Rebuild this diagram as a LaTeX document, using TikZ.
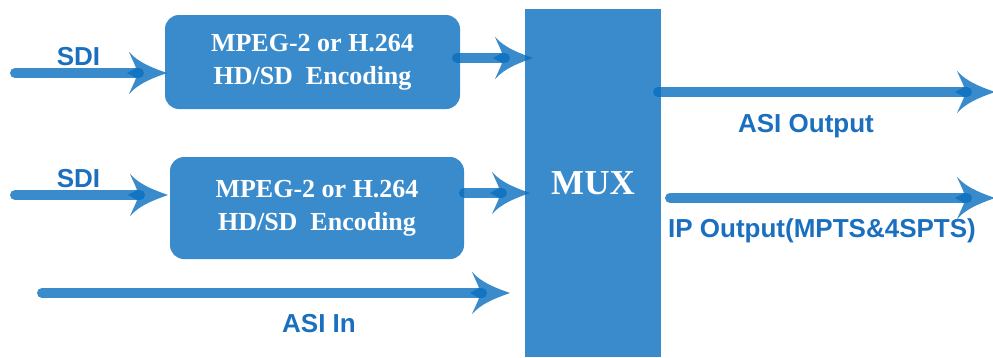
\documentclass[tikz,border=0pt]{standalone}
\usepackage{fontspec}
\setmainfont{Liberation Serif}
\setsansfont{Liberation Sans}
\usetikzlibrary{arrows.meta}
\definecolor{boxblue}{HTML}{3A8BCB}
\definecolor{lineblue}{RGB}{9,110,190}
\definecolor{txtblue}{HTML}{1A6FBF}
\pgfdeclarearrow{
  name = Swept,
  setup code = {
    \pgfarrowssettipend{0pt}
    \pgfarrowssetlineend{-28pt}
    \pgfarrowssetbackend{-40pt}
  },
  drawing code = {
    \pgfpathmoveto{\pgfqpoint{0pt}{0pt}}
    \pgfpathcurveto{\pgfqpoint{-14pt}{5pt}}{\pgfqpoint{-28pt}{10pt}}{\pgfqpoint{-38pt}{21pt}}
    \pgfpathcurveto{\pgfqpoint{-34pt}{12pt}}{\pgfqpoint{-32pt}{8pt}}{\pgfqpoint{-31pt}{5pt}}
    \pgfpathlineto{\pgfqpoint{-40pt}{0pt}}
    \pgfpathlineto{\pgfqpoint{-31pt}{-5pt}}
    \pgfpathcurveto{\pgfqpoint{-32pt}{-8pt}}{\pgfqpoint{-34pt}{-12pt}}{\pgfqpoint{-38pt}{-21pt}}
    \pgfpathcurveto{\pgfqpoint{-28pt}{-10pt}}{\pgfqpoint{-14pt}{-5pt}}{\pgfqpoint{0pt}{0pt}}
    \pgfpathclose
    \pgfusepathqfill
  }
}
\tikzset{
  encbox/.style={draw=none, fill=boxblue, rounded corners=14pt, text=white,
    align=center, font=\fontsize{26}{33}\selectfont\bfseries,
    minimum width=#1, inner sep=0pt},
  muxbox/.style={draw=none, fill=boxblue, text=white, inner sep=0pt,
    font=\fontsize{35}{40}\selectfont\bfseries},
  flow/.style={color=lineblue, opacity=0.8, line width=10pt, line cap=round, -Swept},
  lbl/.style={text=txtblue, anchor=base, inner sep=0pt,
    font=\sffamily\bfseries\fontsize{26}{30}\selectfont},
}
\begin{document}
\begin{tikzpicture}[x=1pt,y=-1pt]
\useasboundingbox (0,0) rectangle (993,357);
% boxes
\node[encbox=295pt, minimum height=94pt] (enc1) at (312.5,62) {MPEG-2 or H.264\\HD/SD~ Encoding};
\node[encbox=294pt, minimum height=102pt] (enc2) at (317,208) {MPEG-2 or H.264\\HD/SD~ Encoding};
\node[muxbox, minimum width=136pt, minimum height=348pt] (mux) at (593,183) {MUX};
% end points
\coordinate (sdi1s) at (15,73);   \coordinate (sdi1t) at (167,73);
\coordinate (sdi2s) at (15,195);  \coordinate (sdi2t) at (168,195);
\coordinate (e1s) at (457,58);    \coordinate (e1t) at (533,58);
\coordinate (e2s) at (464,193);   \coordinate (e2t) at (530,193);
\coordinate (asis) at (42,293);   \coordinate (asit) at (510,293);
\coordinate (aos) at (658,92);    \coordinate (aot) at (995,92);
\coordinate (ips) at (670,198);   \coordinate (ipt) at (995,198);
% connectors
\draw[flow] (sdi1s) -- (sdi1t);
\draw[flow] (sdi2s) -- (sdi2t);
\draw[flow] (e1s) -- (e1t);
\draw[flow] (e2s) -- (e2t);
\draw[flow] (asis) -- (asit);
\draw[flow] (aos) -- (aot);
\draw[flow] (ips) -- (ipt);
% labels
\node[lbl] (l1) at (78.5,65) {SDI};
\node[lbl] (l2) at (78.5,187) {SDI};
\node[lbl] (l3) at (319,332) {ASI In};
\node[lbl] (l4) at (806,132) {ASI Output};
\node[lbl] (l5) at (822,237) {IP Output(MPTS\&4SPTS)};
\end{tikzpicture}
\end{document}
